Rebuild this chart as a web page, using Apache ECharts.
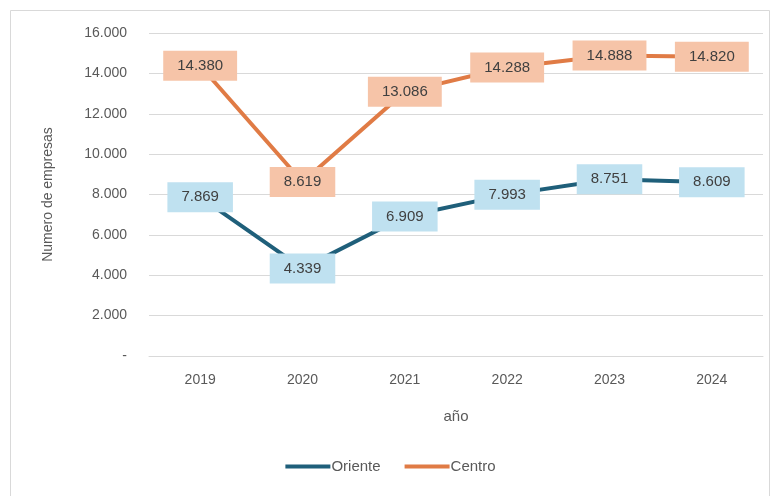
<!DOCTYPE html>
<html>
<head>
<meta charset="utf-8">
<script src="https://cdn.jsdelivr.net/npm/echarts@6/dist/echarts.min.js"></script>
<style>
html, body { margin: 0; padding: 0; background: #fff; }
#chart { width: 781px; height: 496px; }
</style>
</head>
<body>
<div id="chart"></div>
<script>
var years = ['2019', '2020', '2021', '2022', '2023', '2024'];
var oriente = [7869, 4339, 6909, 7993, 8751, 8609];
var centro = [14380, 8619, 13086, 14288, 14888, 14820];

// 14380 -> "14.380", 0 -> "-"
function fmt(v) {
    if (v === 0) return '-';
    return String(v).replace(/\B(?=(\d{3})+(?!\d))/g, '.');
}

function labelStyle(bg) {
    return {
        show: true,
        position: 'inside',
        formatter: function (p) { return fmt(p.value); },
        color: '#404040',
        fontSize: 15,
        fontFamily: 'Liberation Sans',
        backgroundColor: bg,
        padding: [8, 14, 7, 14]
    };
}

option = {
    backgroundColor: '#fff',
    animation: false,
    graphic: [{
        type: 'rect',
        shape: { x: 10.5, y: 10.5, width: 759, height: 490 },
        style: { fill: 'none', stroke: '#d9d9d9', lineWidth: 1 },
        silent: true
    }],
    grid: { left: 149, right: 18, top: 33, bottom: 140 },
    legend: {
        data: ['Oriente', 'Centro'],
        bottom: 17,
        left: 'center',
        itemWidth: 45,
        itemHeight: 4,
        itemGap: 24,
        icon: 'rect',
        textStyle: { color: '#595959', fontSize: 15, fontFamily: 'Liberation Sans', padding: [0, 0, 0, -4] }
    },
    xAxis: {
        type: 'category',
        data: years,
        name: 'año',
        nameLocation: 'middle',
        nameGap: 53,
        nameTextStyle: { color: '#595959', fontSize: 15, fontFamily: 'Liberation Sans' },
        axisLine: { show: true, lineStyle: { color: '#d9d9d9' } },
        axisTick: { show: false },
        axisLabel: { color: '#595959', fontSize: 14, fontFamily: 'Liberation Sans', margin: 17 }
    },
    yAxis: {
        type: 'value',
        min: 0,
        max: 16000,
        interval: 2000,
        name: 'Numero de empresas',
        nameLocation: 'middle',
        nameGap: 94,
        nameTextStyle: { color: '#595959', fontSize: 14, fontFamily: 'Liberation Sans' },
        axisLine: { show: false },
        axisTick: { show: false },
        axisLabel: { color: '#595959', fontSize: 14, fontFamily: 'Liberation Sans', margin: 22, formatter: fmt },
        splitLine: { lineStyle: { color: '#d9d9d9' } }
    },
    series: [
        {
            name: 'Oriente',
            type: 'line',
            data: oriente,
            symbol: 'circle',
            symbolSize: 0,
            showSymbol: true,
            lineStyle: { width: 4, color: '#1f5f7a' },
            itemStyle: { color: '#1f5f7a' },
            label: labelStyle('#bfe1f0')
        },
        {
            name: 'Centro',
            type: 'line',
            data: centro,
            symbol: 'circle',
            symbolSize: 0,
            showSymbol: true,
            lineStyle: { width: 4, color: '#e07b45' },
            itemStyle: { color: '#e07b45' },
            label: labelStyle('#f6c4a8')
        }
    ]
};
var myChart = echarts.init(document.getElementById('chart'));
myChart.setOption(option);
</script>
</body>
</html>
